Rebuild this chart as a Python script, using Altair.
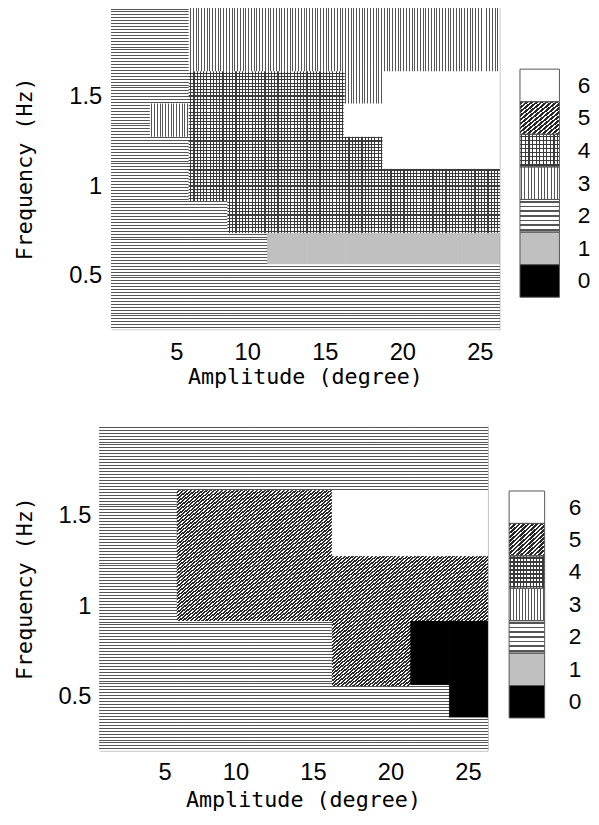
import altair as alt
import pandas as pd

# ---- data -------------------------------------------------------------
AMPLITUDE = [2.5, 5.0, 7.5, 10.0, 12.5, 15.0, 17.5, 20.0, 22.5, 25.0]      # column centres (degree)
FREQUENCY = [0.29, 0.47, 0.65, 0.83, 1.01, 1.19, 1.37, 1.55, 1.73, 1.91]   # row centres (Hz), bottom -> top

# category per cell, rows listed from the highest frequency down
TOP_GRID = [
    [2, 2, 3, 3, 3, 3, 3, 3, 3, 3],
    [2, 2, 3, 3, 3, 3, 3, 3, 3, 3],
    [2, 2, 4, 4, 4, 4, 3, 6, 6, 6],
    [2, 3, 4, 4, 4, 4, 6, 6, 6, 6],
    [2, 2, 4, 4, 4, 4, 4, 6, 6, 6],
    [2, 2, 4, 4, 4, 4, 4, 4, 4, 4],
    [2, 2, 2, 4, 4, 4, 4, 4, 4, 4],
    [2, 2, 2, 2, 1, 1, 1, 1, 1, 1],
    [2, 2, 2, 2, 2, 2, 2, 2, 2, 2],
    [2, 2, 2, 2, 2, 2, 2, 2, 2, 2],
]
BOTTOM_GRID = [
    [2, 2, 2, 2, 2, 2, 2, 2, 2, 2],
    [2, 2, 2, 2, 2, 2, 2, 2, 2, 2],
    [2, 2, 5, 5, 5, 5, 6, 6, 6, 6],
    [2, 2, 5, 5, 5, 5, 6, 6, 6, 6],
    [2, 2, 5, 5, 5, 5, 5, 5, 5, 5],
    [2, 2, 5, 5, 5, 5, 5, 5, 5, 5],
    [2, 2, 2, 2, 2, 2, 5, 5, 0, 0],
    [2, 2, 2, 2, 2, 2, 5, 5, 0, 0],
    [2, 2, 2, 2, 2, 2, 2, 2, 2, 0],
    [2, 2, 2, 2, 2, 2, 2, 2, 2, 2],
]
LEGEND_CODES = [0, 1, 2, 3, 4, 5, 6]
X_TICKS = [5, 10, 15, 20, 25]
Y_TICKS = [0.5, 1.0, 1.5]
X_TITLE = "Amplitude (degree)"
Y_TITLE = "Frequency (Hz)"

LABEL_FONT = "Liberation Sans"
TITLE_FONT = "DejaVu Sans Mono"


# ---- hatch styles (linear gradients with hard stops) -------------------
def stripes(n, frac, dark, light, direction):
    # one dark band centred in every period, light at both cell edges
    stops = []
    for i in range(n):
        a = i / n
        b = (i + 0.5 - frac / 2) / n
        c = (i + 0.5 + frac / 2) / n
        d = (i + 1) / n
        stops += [
            {"offset": round(a, 5), "color": light},
            {"offset": round(b, 5), "color": light},
            {"offset": round(b, 5), "color": dark},
            {"offset": round(c, 5), "color": dark},
            {"offset": round(c, 5), "color": light},
            {"offset": round(d, 5), "color": light},
        ]
    coords = {
        "h": dict(x1=0, y1=0, x2=0, y2=1),
        "v": dict(x1=0, y1=0, x2=1, y2=0),
        "d": dict(x1=0, y1=0, x2=1, y2=1),
    }[direction]
    return {"gradient": "linear", "stops": stops, **coords}


CLEAR = "rgba(0,0,0,0)"


def styles(nh, nv, ngh, ngv, nd):
    return {
        0: ["#000000"],
        1: ["#c0c0c0"],
        2: [stripes(nh, 0.34, "#555555", "#ffffff", "h")],
        3: [stripes(nv, 0.34, "#555555", "#ffffff", "v")],
        4: [stripes(ngh, 0.34, "#3a3a3a", "#ffffff", "h"),
            stripes(ngv, 0.34, "#3a3a3a", CLEAR, "v")],
        5: [stripes(nd, 0.6, "#262626", "#ffffff", "d")],
        6: ["#ffffff"],
    }


PANEL_STYLES = styles(11, 14, 10, 12, 20)
LEGEND_STYLES = styles(7, 12, 8, 11, 16)


def grid_frame(grid):
    da = (AMPLITUDE[1] - AMPLITUDE[0]) / 2
    dfq = (FREQUENCY[1] - FREQUENCY[0]) / 2
    n = len(grid)
    recs = []
    for r, row in enumerate(grid):
        f = FREQUENCY[n - 1 - r]
        for c, code in enumerate(row):
            a = AMPLITUDE[c]
            recs.append(dict(a0=a - da, a1=a + da, f0=f - dfq, f1=f + dfq, code=code))
    return pd.DataFrame(recs)


def panel(grid, w, h, y_title_pad, y_label_pad, x_label_pad, x_title_pad, x_title_x):
    df = grid_frame(grid)
    da = (AMPLITUDE[1] - AMPLITUDE[0]) / 2
    dfq = (FREQUENCY[1] - FREQUENCY[0]) / 2
    xscale = alt.Scale(domain=[AMPLITUDE[0] - da, AMPLITUDE[-1] + da], nice=False, zero=False)
    yscale = alt.Scale(domain=[round(FREQUENCY[0] - dfq, 3), round(FREQUENCY[-1] + dfq, 3)], nice=False, zero=False)
    base = alt.Chart(df).encode(
        x=alt.X("a0:Q", scale=xscale, axis=alt.Axis(
            title=X_TITLE, values=X_TICKS, format="d",
            labelAlign={"condition": {"test": "datum.value < 10", "value": "left"}, "value": "center"},
            ticks=False, domain=False, labelPadding=x_label_pad, titlePadding=x_title_pad,
            titleX=x_title_x,
            labelFont=LABEL_FONT, labelFontSize=24, labelColor="#000",
            titleFont=TITLE_FONT, titleFontSize=22, titleFontWeight="normal", titleColor="#000")),
        x2="a1:Q",
        y=alt.Y("f0:Q", scale=yscale, axis=alt.Axis(
            title=Y_TITLE, values=Y_TICKS, format="~g",
            ticks=False, domain=False, labelPadding=y_label_pad, titlePadding=y_title_pad,
            labelFont=LABEL_FONT, labelFontSize=24, labelColor="#000",
            titleFont=TITLE_FONT, titleFontSize=22, titleFontWeight="normal", titleColor="#000")),
        y2="f1:Q",
    )
    layers = []
    for code, fills in PANEL_STYLES.items():
        for fill in fills:
            layers.append(
                base.mark_rect(fill=fill, stroke=fill, strokeWidth=1)
                .transform_filter(alt.datum.code == code)
            )
    return alt.layer(*layers).properties(width=w, height=h)


def legend(w, h, dom, label_pad):
    ldf = pd.DataFrame({"code": LEGEND_CODES})
    ldf["b0"] = ldf["code"]
    ldf["b1"] = ldf["code"] + 1
    ldf["x0"] = 0
    ldf["x1"] = 1
    base = alt.Chart(ldf).encode(
        x=alt.X("x0:Q", scale=alt.Scale(domain=[0, 1], nice=False), axis=None),
        x2="x1:Q",
        y=alt.Y("b0:Q", scale=alt.Scale(domain=dom, nice=False, zero=False), axis=alt.Axis(
            orient="right", title=None, values=[c + 0.5 for c in LEGEND_CODES],
            labelExpr="format(floor(datum.value), 'd')",
            ticks=False, domain=False, labelPadding=label_pad,
            labelFont=LABEL_FONT, labelFontSize=23, labelColor="#000")),
        y2="b1:Q",
    )
    layers = []
    for code, fills in LEGEND_STYLES.items():
        for fill in fills:
            layers.append(base.mark_rect(fill=fill).transform_filter(alt.datum.code == code))
    layers.append(base.mark_rect(fillOpacity=0, stroke="#555", strokeWidth=1))
    return alt.layer(*layers).properties(
        width=w, height=h, view=alt.ViewBackground(stroke="transparent"))


def spacer():
    # invisible zero-size anchor so that both rows start at the same left edge
    return alt.Chart(pd.DataFrame({"v": [0]})).mark_point(size=0, opacity=0).encode(
        x=alt.value(0), y=alt.value(0)
    ).properties(width=1, height=1, view=alt.ViewBackground(stroke="transparent"))


top_row = alt.hconcat(
    spacer(),
    alt.hconcat(panel(TOP_GRID, 393, 326, 33, 10, 12, 2, 196),
                legend(40, 326, [-0.98, 8.89], 18), spacing=19),
    spacing=0,
)
bottom_row = alt.hconcat(
    spacer(),
    alt.hconcat(panel(BOTTOM_GRID, 393, 329, 21.6, 9, 11, 5, 206),
                legend(36, 329, [-1.0, 9.01], 24), spacing=20),
    spacing=0,
)

chart = (
    alt.vconcat(top_row, bottom_row, spacing=37)
    .properties(padding={"left": 2, "top": -7, "right": 0, "bottom": 0}, background="white")
    .configure_view(stroke="#777", strokeWidth=1)
    .configure_axis(grid=False)
)

chart.save("out.html", embed_options={"renderer": "svg", "actions": False})
